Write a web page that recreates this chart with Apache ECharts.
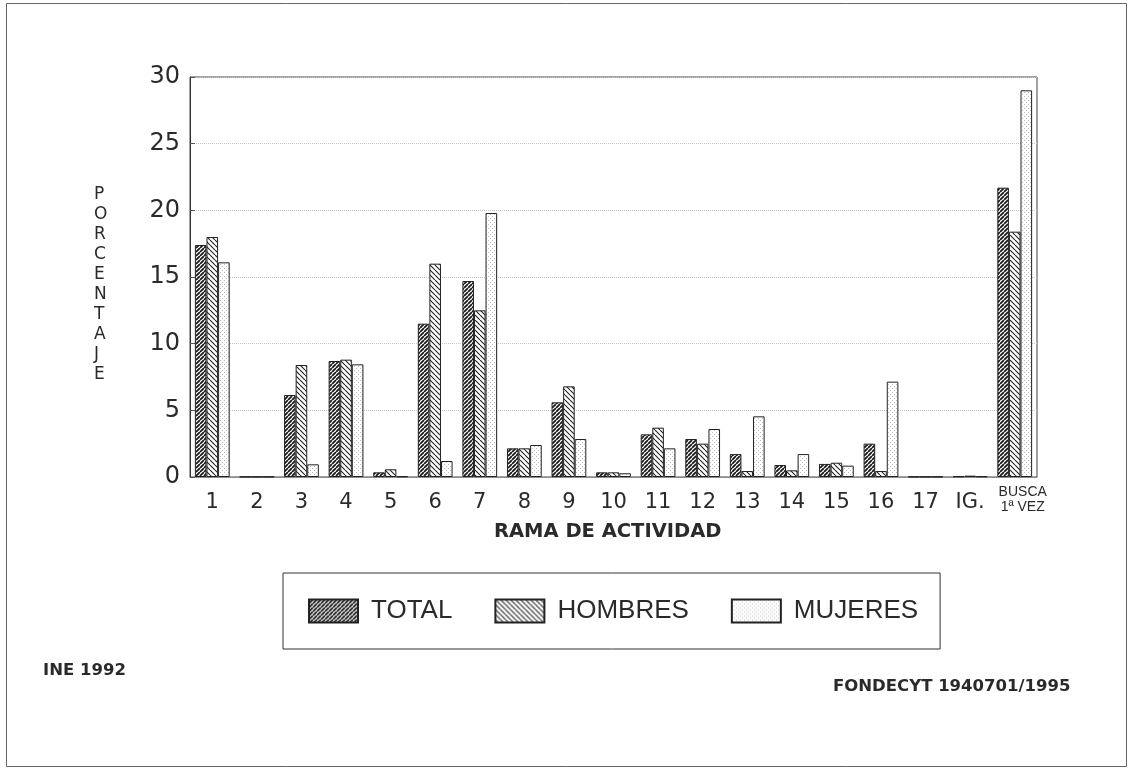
<!DOCTYPE html>
<html>
<head>
<meta charset="utf-8">
<script src="https://cdn.jsdelivr.net/npm/echarts@6/dist/echarts.min.js"></script>
<style>
html,body{margin:0;padding:0;background:#fff;}
#chart{width:1135px;height:770px;}
</style>
</head>
<body>
<div id="chart"></div>
<script>
const categories = ['1','2','3','4','5','6','7','8','9','10','11','12','13','14','15','16','17','IG.','BUSCA\n1ª VEZ'];
const total    = [17.4, 0.02, 6.15, 8.7, 0.35, 11.5, 14.7, 2.15, 5.6, 0.35, 3.2, 2.85, 1.72, 0.9, 0.98, 2.5, 0.02, 0.05, 21.7];
const hombres  = [18.0, 0.02, 8.4, 8.8, 0.58, 16.0, 12.5, 2.15, 6.8, 0.35, 3.7, 2.5, 0.45, 0.5, 1.07, 0.45, 0.02, 0.1, 18.4];
const mujeres  = [16.1, 0.02, 0.95, 8.45, 0.05, 1.2, 19.8, 2.4, 2.85, 0.28, 2.15, 3.6, 4.55, 1.72, 0.85, 7.15, 0.02, 0.05, 29.0];
const yTicks = [0, 5, 10, 15, 20, 25, 30];
const seriesNames = ['TOTAL', 'HOMBRES', 'MUJERES'];

function hatch(n, dir, lw, col) {
  const c = document.createElement('canvas');
  c.width = n; c.height = n;
  const g = c.getContext('2d');
  g.fillStyle = '#fff'; g.fillRect(0, 0, n, n);
  g.strokeStyle = col; g.lineWidth = lw;
  g.beginPath();
  for (const k of [-n, 0, n]) {
    if (dir === '/') { g.moveTo(k, n); g.lineTo(k + n, 0); }
    else { g.moveTo(k, 0); g.lineTo(k + n, n); }
  }
  g.stroke();
  return c;
}
function dots() {
  const c = document.createElement('canvas');
  c.width = 4; c.height = 4;
  const g = c.getContext('2d');
  g.fillStyle = '#fff'; g.fillRect(0, 0, 4, 4);
  g.fillStyle = '#bdbdbd';
  g.fillRect(0, 0, 1, 1);
  g.fillRect(2, 2, 1, 1);
  return c;
}
const patTotal = {image: hatch(4, '/', 1.8, '#1a1a1a'), repeat: 'repeat'};
const patHomb = {image: hatch(5, '\\', 1.1, '#222'), repeat: 'repeat'};
const patMuj = {image: dots(), repeat: 'repeat'};

const chart = echarts.init(document.getElementById('chart'), null, {renderer: 'canvas'});
const txt = '#2a2a2a';
const letters = 'PORCENTAJE'.split('').join('\n');

function mkSeries(name, data, pat) {
  return {
    name: name, type: 'bar', data: data,
    barGap: '0%', barCategoryGap: '22%',
    itemStyle: {color: pat, borderColor: '#222', borderWidth: 1},
    emphasis: {disabled: true}
  };
}

chart.setOption({
  animation: false,
  backgroundColor: '#fff',
  grid: {left: 190, top: 77, right: 98, bottom: 293, show: true, borderColor: '#444', borderWidth: 1},
  legend: {
    left: 283, top: 573, orient: 'horizontal',
    padding: [25, 22, 25, 25],
    borderColor: '#333', borderWidth: 1,
    itemWidth: 49, itemHeight: 23, itemGap: 42,
    icon: 'rect',
    textStyle: {fontFamily: 'Liberation Sans', fontSize: 26, color: txt, padding: [0, 0, 0, 8]},
    data: seriesNames
  },
  xAxis: {
    type: 'category', data: categories,
    axisLine: {show: true, lineStyle: {color: '#888', type: 'dotted'}},
    axisTick: {show: false},
    axisLabel: {
      margin: 8, color: txt, fontFamily: 'DejaVu Sans', fontSize: 21,
      interval: 0,
      formatter: function (v) {
        if (v.indexOf('BUSCA') === 0) return '{s|BUSCA}\n{s|1ª VEZ}';
        return '{d|' + v + '}';
      },
      rich: {
        d: {fontFamily: 'DejaVu Sans', fontSize: 21, color: txt, padding: [7, 0, 0, 0]},
        s: {fontFamily: 'Liberation Sans', fontSize: 14, lineHeight: 15, color: txt, padding: [0, 0, 0, 16]}
      }
    }
  },
  yAxis: {
    type: 'value', min: 0, max: 30, interval: 5,
    axisLine: {show: true, lineStyle: {color: '#333'}},
    axisTick: {show: true, inside: true, length: 5, lineStyle: {color: '#555'}},
    splitLine: {show: true, lineStyle: {color: '#c4c4c4', type: 'dotted', width: 1}},
    axisLabel: {
      margin: 10, color: txt, fontFamily: 'DejaVu Sans', fontSize: 24,
      formatter: function (v) { return yTicks.indexOf(v) >= 0 ? String(v) : ''; }
    }
  },
  graphic: [
    {type: 'rect', shape: {x: 6.5, y: 3.5, width: 1120, height: 763}, style: {fill: 'none', stroke: '#666', lineWidth: 1}, silent: true, z: -1},
    {type: 'text', left: 94, top: 185, style: {text: letters, fontFamily: 'DejaVu Sans', fontSize: 17, lineHeight: 20, fill: txt, align: 'center'}},
    {type: 'text', left: 494, top: 522, style: {text: 'RAMA DE ACTIVIDAD', fontFamily: 'DejaVu Sans', fontWeight: 'bold', fontSize: 19.5, fill: txt}},
    {type: 'text', left: 43, top: 662, style: {text: 'INE 1992', fontFamily: 'DejaVu Sans', fontWeight: 'bold', fontSize: 16.5, fill: txt}},
    {type: 'text', left: 833, top: 678, style: {text: 'FONDECYT 1940701/1995', fontFamily: 'DejaVu Sans', fontWeight: 'bold', fontSize: 16.5, fill: txt}}
  ],
  series: [
    mkSeries('TOTAL', total, patTotal),
    mkSeries('HOMBRES', hombres, patHomb),
    mkSeries('MUJERES', mujeres, patMuj)
  ]
});
</script>
</body>
</html>
